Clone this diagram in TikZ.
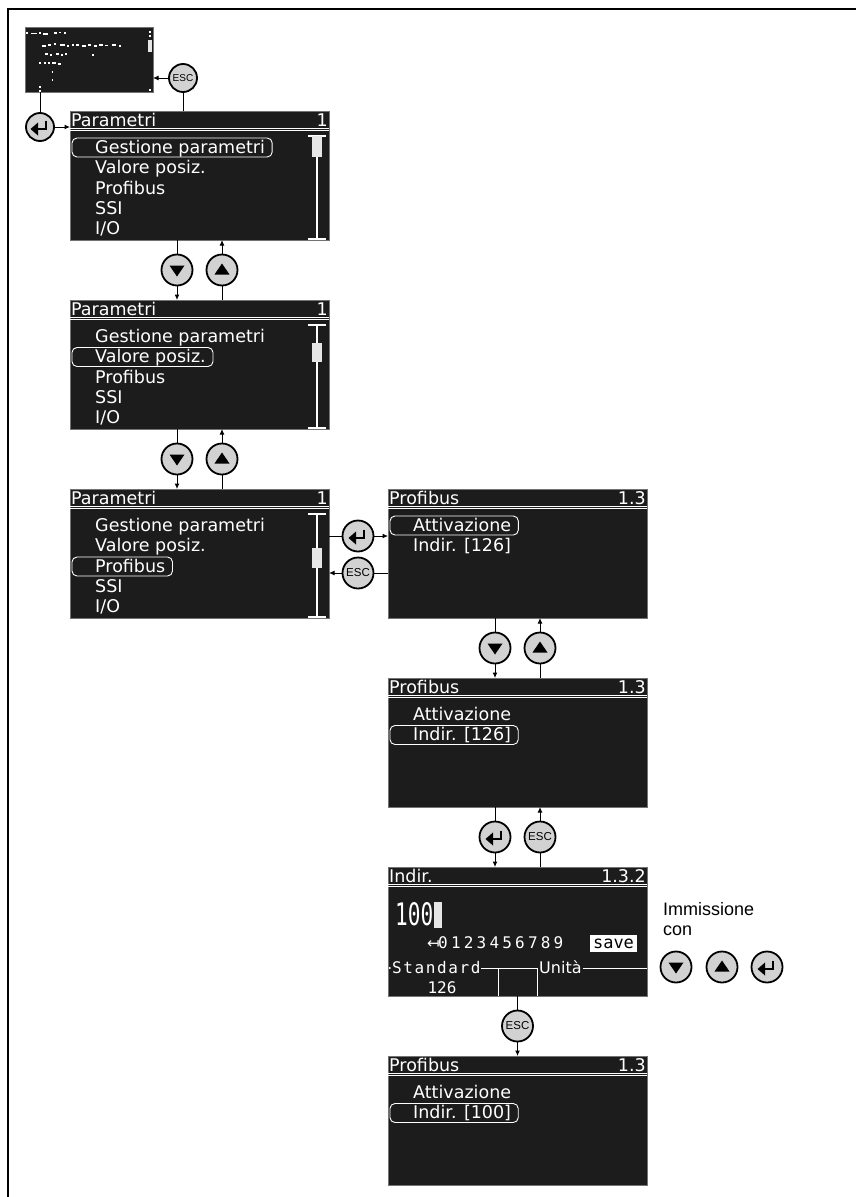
\documentclass[tikz,border=0pt]{standalone}
\usepackage{fontspec}
\setmainfont{Liberation Sans}
\newfontfamily\lcdfam{DejaVu Sans}
\newfontfamily\lcdmono{DejaVu Sans Mono}
\newfontfamily\djs{DejaVu Sans}
\usetikzlibrary{arrows.meta,calc}
\definecolor{scr}{HTML}{1C1C1C}
\definecolor{btngray}{HTML}{D2D2D2}
\definecolor{thumbc}{HTML}{E6E6E6}
\tikzset{
 screen/.style={fill=scr, draw=black!55, line width=0.4pt, minimum width=259pt, minimum height=129pt, anchor=north west, inner sep=0pt, outer sep=0pt},
 lcd/.style={text=white, font=\lcdfam\fontsize{17.5}{17.5}\selectfont, inner sep=0pt, anchor=base west},
 btn/.style={circle, draw=black, line width=1.8pt, fill=btngray, minimum size=31pt, inner sep=0pt, outer sep=0.9pt},
 conn/.style={line width=1pt},
 arr/.style={line width=1pt, -{Latex[length=5.5pt,width=5pt]}},
 selbox/.style={draw=white, line width=0.9pt, rounded corners=5pt},
 wl/.style={white, line width=1.1pt},
 minim/.style={white, line width=1.8pt},
}
\newcommand\lcdhead[2]{%
  \node[lcd] at (1,15) {#1};
  \node[lcd, anchor=base east] at (258,15) {#2};
  \draw[white, line width=0.7pt] (0,17.3) -- (259,17.3);
  \draw[white, line width=0.7pt] (0,19.7) -- (259,19.7);}
\newcommand\lcdscroll[2]{%
  \draw[wl] (247,25) -- (247,128);
  \draw[wl] (238,25) -- (256,25) (238,128) -- (256,128);
  \fill[thumbc] (242,#1) rectangle (252,#2);}
\newcommand\lcdsel[2]{%
  \node[lcd] (tsel) at (25,#1) {#2};
  \coordinate (tse) at ([xshift=7pt]tsel.base east);
  \draw[selbox] (2,#1-15) rectangle (tse |- 0,#1+4);}
\newcommand\btndown[4][]{\node[btn,#1] (#2) at (#3,#4) {};\fill[shift={(#2)}] (-7.5,-4.5) -- (7.5,-4.5) -- (0,6.5) -- cycle;}
\newcommand\btnup[4][]{\node[btn,#1] (#2) at (#3,#4) {};\fill[shift={(#2)}] (-7.5,4.5) -- (7.5,4.5) -- (0,-6.5) -- cycle;}
\newcommand\btnent[4][]{\node[btn,#1] (#2) at (#3,#4) {};\draw[shift={(#2)}, line width=2.8pt] (6,-6.5) -- (6,2) -- (-2,2);\fill[shift={(#2)}] (-9.5,2) -- (-2,-4.5) -- (-2,8.5) -- cycle;}
\newcommand\btnesc[4][]{\node[btn,font=\fontsize{11.5}{11.5}\selectfont,#1] (#2) at (#3,#4) {ESC};}
\begin{document}
\begin{tikzpicture}[x=1pt,y=-1pt]
\useasboundingbox (0,0) rectangle (856,1197);
\draw[line width=2pt] (7.5,1197) -- (7.5,9) -- (856,9);

% mini screen
\node[screen, minimum width=128pt, minimum height=65pt] (s0) at (25,27) {};
\draw[minim] (26,33)--(27.5,33) (31,33.5)--(37,33.5) (39,33)--(41,33) (43,34)--(48,34) (54,33)--(57,33) (59,32.5)--(61,32.5) (64,33)--(66,33);
\draw[minim] (42,46)--(46,46) (48,45)--(51,45) (54,44)--(56,44) (60,45)--(65,45) (67,46)--(69,46) (72,45)--(74,45) (76,45)--(79,45) (82,46)--(86,46) (88,45)--(91,45) (94,46)--(97,46) (99,45)--(103,45) (105,45.5)--(108,45.5) (112,45)--(116,45) (119,46)--(121,46);
\draw[minim] (45,54)--(48,54) (50,55)--(52,55) (56,54)--(59,54) (61,55)--(63,55) (65,54)--(67,54) (92,55)--(94,55);
\draw[minim] (39,63)--(40.5,63) (44,63)--(45.5,63) (48,63)--(49.5,63) (52,63)--(56,63) (58,64)--(61,64);
\draw[minim] (51.5,72)--(53,72) (51.5,80)--(53,80);
\draw[minim] (40,85.5)--(40,88) (40,90)--(40,92);
\fill[thumbc] (148,40) rectangle (152,52);
\draw[minim] (150,30.5)--(150,32.5) (150,35)--(150,37) (150,89)--(150,90.5);

% screen 1
\node[screen] (s1) at (70,111) {};
\begin{scope}[shift={(70,111)}]
 \lcdhead{Parametri}{1}
 \lcdsel{42}{Gestione parametri}
 \node[lcd] at (25,62.5) {Valore posiz.};
 \node[lcd] at (25,83) {Profibus};
 \node[lcd] at (25,103) {SSI};
 \node[lcd] at (25,123) {I/O};
 \lcdscroll{25}{46}
\end{scope}

% screen 2
\node[screen] (s2) at (70,300) {};
\begin{scope}[shift={(70,300)}]
 \lcdhead{Parametri}{1}
 \node[lcd] at (25,42) {Gestione parametri};
 \lcdsel{62.5}{Valore posiz.}
 \node[lcd] at (25,83) {Profibus};
 \node[lcd] at (25,103) {SSI};
 \node[lcd] at (25,123) {I/O};
 \lcdscroll{43}{62}
\end{scope}

% screen 3
\node[screen] (s3) at (70,489) {};
\begin{scope}[shift={(70,489)}]
 \lcdhead{Parametri}{1}
 \node[lcd] at (25,42) {Gestione parametri};
 \node[lcd] at (25,62.5) {Valore posiz.};
 \lcdsel{83}{Profibus}
 \node[lcd] at (25,103) {SSI};
 \node[lcd] at (25,123) {I/O};
 \lcdscroll{59}{79}
\end{scope}

% Profibus 1
\node[screen] (p1) at (388,489) {};
\begin{scope}[shift={(388,489)}]
 \lcdhead{Profibus}{1.3}
 \lcdsel{42}{Attivazione}
 \node[lcd] at (25,62.5) {Indir. [126]};
\end{scope}

% Profibus 2
\node[screen] (p2) at (388,678) {};
\begin{scope}[shift={(388,678)}]
 \lcdhead{Profibus}{1.3}
 \node[lcd] at (25,42) {Attivazione};
 \lcdsel{62.5}{Indir. [126]}
\end{scope}

% Indir screen
\node[screen] (ind) at (388,867) {};
\begin{scope}[shift={(388,867)}]
 \lcdhead{Indir.}{1.3.2}
 \node[lcd, font=\lcdmono\fontsize{31}{31}\selectfont] at (7,58) {\scalebox{0.68}[1]{100}};
 \fill[thumbc] (46,35) rectangle (54,61);
 \node[lcd, font=\djs\fontsize{15}{15}\selectfont] at (39,81) {↤};
 \node[lcd, font=\lcdmono\fontsize{16}{16}\selectfont] at (50,81) {\addfontfeature{LetterSpace=20}0123456789};
 \fill[white] (202,68) rectangle (249,85);
 \node[lcd, text=black, anchor=base, font=\lcdmono\fontsize{17}{17}\selectfont] at (225.5,81.5) {save};
 \fill[white] (1.8,101) circle (1.1);
 \node[lcd, font=\lcdmono\fontsize{16}{16}\selectfont] at (4,106) {\addfontfeature{LetterSpace=10}Standard};
 \draw[white, line width=1pt] (93,101) -- (149,101) (110,101) -- (110,129) (149,101) -- (149,129);
 \node[lcd, font=\lcdfam\fontsize{16}{16}\selectfont] (uni) at (151,106) {Unità};
 \draw[white, line width=1pt] ([xshift=1.5pt]uni.east |- 0,101) -- (259,101);
 \node[lcd, anchor=base, font=\lcdmono\fontsize{16}{16}\selectfont] at (54,126.5) {126};
\end{scope}

% Profibus 3
\node[screen] (p3) at (388,1056) {};
\begin{scope}[shift={(388,1056)}]
 \lcdhead{Profibus}{1.3}
 \node[lcd] at (25,42) {Attivazione};
 \lcdsel{62.5}{Indir. [100]}
\end{scope}

% top buttons
\btnesc[minimum size=28pt, font=\fontsize{10}{10}\selectfont]{x0}{183}{78}
\btnent[minimum size=28pt]{e0}{40}{127}
\draw[conn] (s0.south -| e0) -- (e0);
\draw[arr] (e0) -- (e0 -| s1.west);
\draw[conn] (s1.north -| x0) -- (x0);
\draw[arr] (x0) -- (x0 -| s0.east);

% s1 <-> s2
\btndown{d1}{177}{270}
\btnup{u1}{222}{270}
\draw[conn] (s1.south -| d1) -- (d1);
\draw[arr] (d1) -- (d1 |- s2.north);
\draw[conn] (s2.north -| u1) -- (u1);
\draw[arr] (u1) -- (u1 |- s1.south);

% s2 <-> s3
\btndown{d2}{177}{459}
\btnup{u2}{222}{459}
\draw[conn] (s2.south -| d2) -- (d2);
\draw[arr] (d2) -- (d2 |- s3.north);
\draw[conn] (s3.north -| u2) -- (u2);
\draw[arr] (u2) -- (u2 |- s2.south);

% s3 <-> p1
\btnent{e1}{358}{536}
\btnesc{x1}{358}{573}
\draw[conn] (e1 -| s3.east) -- (e1);
\draw[arr] (e1) -- (e1 -| p1.west);
\draw[conn] (x1 -| p1.west) -- (x1);
\draw[arr] (x1) -- (x1 -| s3.east);

% p1 <-> p2
\btndown{d3}{495}{648}
\btnup{u3}{540}{648}
\draw[conn] (p1.south -| d3) -- (d3);
\draw[arr] (d3) -- (d3 |- p2.north);
\draw[conn] (p2.north -| u3) -- (u3);
\draw[arr] (u3) -- (u3 |- p1.south);

% p2 <-> ind
\btnent{e2}{495}{837}
\btnesc{x2}{540}{837}
\draw[conn] (p2.south -| e2) -- (e2);
\draw[arr] (e2) -- (e2 |- ind.north);
\draw[conn] (ind.north -| x2) -- (x2);
\draw[arr] (x2) -- (x2 |- p2.south);

% ind -> p3
\btnesc{x3}{517.5}{1026}
\draw[conn] (ind.south -| x3) -- (x3);
\draw[arr] (x3) -- (x3 |- p3.north);

% Immissione con
\node[anchor=base west, inner sep=0pt, font=\fontsize{18}{20}\selectfont] (imm) at (663,915) {Immissione};
\node[anchor=base west, inner sep=0pt, font=\fontsize{18}{20}\selectfont] (con) at (663,935) {con};
\btndown{d4}{676}{967}
\btnup{u4}{722}{967}
\btnent{e4}{767}{967}
\end{tikzpicture}
\end{document}
